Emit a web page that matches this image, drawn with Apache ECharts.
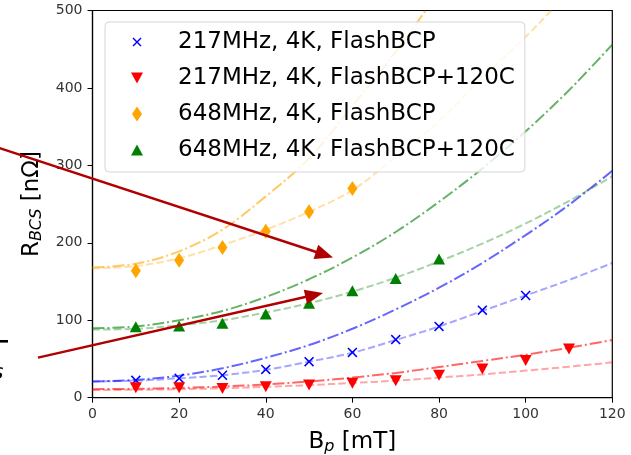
<!DOCTYPE html>
<html>
<head>
<meta charset="utf-8">
<script src="https://cdn.jsdelivr.net/npm/echarts@6/dist/echarts.min.js"></script>
<style>
  html, body { margin: 0; padding: 0; background: #fff; }
  #chart { width: 631px; height: 455px; }
</style>
</head>
<body>
<div id="chart"></div>
<script>
// measured points
const fieldBlue = [10, 20, 30, 40, 50, 60, 70, 80, 90, 100]
const rBlue = [22.5, 25, 29, 36.5, 46.5, 58.5, 75, 92, 113, 132]
const fieldRed = [10, 20, 30, 40, 50, 60, 70, 80, 90, 100, 110]
const rRed = [13, 13, 12, 14, 16.5, 18.5, 22, 29, 37, 48, 63]
const fieldOrange = [10, 20, 30, 40, 50, 60]
const rOrange = [164, 177.5, 194, 215, 240, 270]
const fieldGreen = [10, 20, 30, 40, 50, 60, 70, 80]
const rGreen = [91.5, 92.5, 96, 108, 122, 138, 154, 179]

// fit curves
const fitField = [0, 10, 20, 30, 40, 50, 60, 70, 80, 90, 100, 110, 120]
const blueDash = [21, 22, 25, 29, 36, 46.5, 58, 74.5, 92, 112, 132, 152, 174]
const blueDashDot = [21, 23, 28.5, 38, 51.5, 68, 89, 114, 142, 174, 210, 249, 293]
const redDash = [10, 10.2, 11, 12.2, 14, 16.2, 19, 22, 26, 30, 35, 40, 45.7]
const redDashDot = [11, 11.5, 12.5, 14.5, 17, 21, 26, 32, 39.5, 47.5, 55.5, 64.5, 74.5]
const orangeDash = [167, 170, 180, 197, 217, 240, 268, 311, 357, 413, 466, 525, 590]
const orangeDashDot = [168, 173, 189, 217, 260, 309, 377, 447, 525, 610, 700, 800, 900]
const greenDash = [88, 89, 93.5, 100, 110, 122, 137, 155, 176, 199, 225, 254, 286]
const greenDashDot = [89.6, 92, 100, 112, 130, 153, 181, 214, 253, 296, 344, 397, 456]

const xTicks = [0, 20, 40, 60, 80, 100, 120]
const yTicks = [0, 100, 200, 300, 400, 500]

const names = [
  '217MHz, 4K, FlashBCP',
  '217MHz, 4K, FlashBCP+120C',
  '648MHz, 4K, FlashBCP',
  '648MHz, 4K, FlashBCP+120C'
]
const colors = ['#0000ff', '#ff0000', '#ffa500', '#008000']

const FONT = 'DejaVu Sans'
const BOX = 'M0,0M16,16'
const crossPath = 'path://M0,1.1L1.1,0L5,3.9L8.9,0L10,1.1L6.1,5L10,8.9L8.9,10L5,6.1L1.1,10L0,8.9L3.9,5Z'
const legendIcons = [
  'path://' + BOX + 'M3.5,4.5L4.5,3.5L8,7L11.5,3.5L12.5,4.5L9,8L12.5,11.5L11.5,12.5L8,9L4.5,12.5L3.5,11.5L7,8Z',
  'path://' + BOX + 'M2,2.5L14,2.5L8,13.5Z',
  'path://' + BOX + 'M8,0.5L13,8L8,15.5L3,8Z',
  'path://' + BOX + 'M2,13.5L14,13.5L8,2.5Z'
]

const zip = (xs, ys) => xs.map((x, i) => [x, ys[i]])

const fitLine = (values, color, dashDot) => ({
  type: 'line',
  data: zip(fitField, values),
  smooth: 0.35,
  showSymbol: false,
  silent: true,
  z: 2,
  lineStyle: {
    color: color,
    width: 2,
    opacity: dashDot ? 0.6 : 0.35,
    type: dashDot ? [12, 3, 2, 3] : [7.5, 3.2]
  }
})

const points = (name, xs, ys, color, symbol, size, rotate) => ({
  name: name,
  type: 'scatter',
  data: zip(xs, ys),
  symbol: symbol,
  symbolSize: size,
  symbolRotate: rotate || 0,
  itemStyle: { color: color, opacity: 1 },
  z: 3
})

// arrow annotation in pixel space
const arrow = (x1, y1, x2, y2) => {
  const len = Math.hypot(x2 - x1, y2 - y1)
  const ux = (x2 - x1) / len, uy = (y2 - y1) / len
  const hl = 18, hw = 7.5
  const bx = x2 - ux * hl, by = y2 - uy * hl
  return [
    {
      type: 'line', z: 100,
      shape: { x1: x1, y1: y1, x2: bx + ux * 2, y2: by + uy * 2 },
      style: { stroke: '#b00000', lineWidth: 2.4 }
    },
    {
      type: 'polygon', z: 100,
      shape: { points: [[x2, y2], [bx - uy * hw, by + ux * hw], [bx + uy * hw, by - ux * hw]] },
      style: { fill: '#b00000' }
    }
  ]
}

const nameRich = {
  a: { fontFamily: FONT, fontSize: 23, color: '#000', lineHeight: 26 },
  b: { fontFamily: FONT, fontSize: 16, color: '#000', fontStyle: 'italic', lineHeight: 16, verticalAlign: 'bottom' }
}

const chart = echarts.init(document.getElementById('chart'))

chart.setOption({
  animation: false,
  backgroundColor: '#fff',
  textStyle: { fontFamily: FONT },
  grid: {
    left: 92.5, right: 18.7, top: 10.5, bottom: 57.3,
    outerBoundsMode: 'none',
    containLabel: false,
    show: true, borderColor: '#000', borderWidth: 1.2, backgroundColor: 'transparent'
  },
  legend: {
    orient: 'vertical',
    left: 105, top: 22,
    padding: [7, 10, 9, 24],
    itemGap: 10,
    itemWidth: 16, itemHeight: 16,
    backgroundColor: 'rgba(255,255,255,0.8)',
    borderColor: '#d6d6d6', borderWidth: 1, borderRadius: 4,
    textStyle: { fontFamily: FONT, fontSize: 23, color: '#000', lineHeight: 26, padding: [0, 0, 0, 28] },
    data: names.map((n, i) => ({ name: n, icon: legendIcons[i], itemStyle: { color: colors[i] } })),
    selectedMode: false,
    z: 10
  },
  xAxis: {
    type: 'value',
    min: 0, max: 120, interval: 20,
    name: '{a|B}{b|p}{a| [mT]}',
    nameLocation: 'middle',
    nameGap: 31,
    nameTextStyle: { rich: nameRich },
    axisLine: { lineStyle: { color: '#000', width: 1.2 } },
    axisTick: { show: true, inside: false, length: 5, lineStyle: { color: '#000', width: 1 } },
    axisLabel: {
      fontFamily: FONT, fontSize: 14, color: '#333', margin: 10,
      formatter: v => (xTicks.includes(v) ? String(v) : '')
    },
    splitLine: { show: false }
  },
  yAxis: {
    type: 'value',
    min: 0, max: 500, interval: 100,
    name: '{a|R}{b|BCS}{a| [nΩ]}',
    nameLocation: 'middle',
    nameRotate: 90,
    nameGap: 45,
    nameTextStyle: { rich: nameRich },
    axisLine: { show: true, lineStyle: { color: '#000', width: 1.2 } },
    axisTick: { show: true, inside: false, length: 5, lineStyle: { color: '#000', width: 1 } },
    axisLabel: {
      fontFamily: FONT, fontSize: 14, color: '#333', margin: 10,
      formatter: v => (yTicks.includes(v) ? String(v) : '')
    },
    splitLine: { show: false }
  },
  series: [
    fitLine(blueDash, colors[0], false),
    fitLine(blueDashDot, colors[0], true),
    fitLine(redDash, colors[1], false),
    fitLine(redDashDot, colors[1], true),
    fitLine(orangeDash, colors[2], false),
    fitLine(orangeDashDot, colors[2], true),
    fitLine(greenDash, colors[3], false),
    fitLine(greenDashDot, colors[3], true),
    points(names[0], fieldBlue, rBlue, colors[0], crossPath, 10),
    points(names[1], fieldRed, rRed, colors[1], 'triangle', [12, 11], 180),
    points(names[2], fieldOrange, rOrange, colors[2], 'diamond', [10, 15]),
    points(names[3], fieldGreen, rGreen, colors[3], 'triangle', [12, 11])
  ],
  graphic: [
    ...arrow(-5, 146.5, 333, 257.5),
    ...arrow(38, 357.7, 323, 293),
    { type: 'rect', z: 100, shape: { x: 0, y: 340, width: 8, height: 2.6 }, style: { fill: '#000' } },
    { type: 'text', z: 100, left: -8, top: 362, style: { text: 's', font: 'italic 22px "DejaVu Sans"', fill: '#000' } }
  ]
})

window.addEventListener('resize', () => chart.resize())
</script>
</body>
</html>
